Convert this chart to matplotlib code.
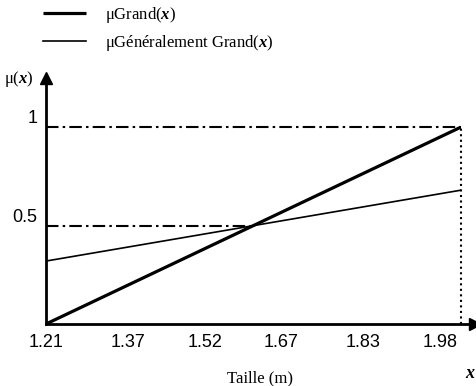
import numpy as np
import matplotlib
matplotlib.use('Agg')
import matplotlib.pyplot as plt

# données
taille = [1.21, 2.02]
mu_grand = [0.0, 1.0]
mu_gen_grand = [0.32, 0.68]
xtick_vals = [1.21, 1.37, 1.52, 1.67, 1.83, 1.98]
xtick_labels = ['1.21', '1.37', '1.52', '1.67', '1.83', '1.98']
ytick_vals = [0.5, 1]
ytick_labels = ['0.5', '1']
x_cross = 1.615

serif = ['Liberation Serif', 'DejaVu Serif']
narrow = ['Liberation Sans Narrow', 'Liberation Sans', 'DejaVu Sans']

plt.rcParams['mathtext.fontset'] = 'custom'
plt.rcParams['mathtext.rm'] = 'Liberation Serif'
plt.rcParams['mathtext.it'] = 'Liberation Serif:italic'
plt.rcParams['mathtext.bf'] = 'Liberation Serif:bold'
plt.rcParams['mathtext.bfit'] = 'Liberation Serif:italic:bold'

fig = plt.figure(figsize=(4.76, 3.86), dpi=100)
ax = fig.add_axes([0.0966, 0.1606, 0.901, 0.637])
ax.set_xlim(1.21, 2.048)
ax.set_ylim(0, 1.25)

for s in ['top', 'right']:
    ax.spines[s].set_visible(False)
for s in ['left', 'bottom']:
    ax.spines[s].set_linewidth(2.0)

# flèches des axes
ax.plot(1, 0, '>k', ms=8, transform=ax.transAxes, clip_on=False)
ax.plot(0, 1, '^k', ms=8, transform=ax.transAxes, clip_on=False)

# lignes de repère
ax.plot([taille[0], taille[1]], [1, 1], color='black', lw=1.5, dashes=(6, 2, 1.2, 2))
ax.plot([taille[0], x_cross], [0.5, 0.5], color='black', lw=1.5, dashes=(6, 2, 1.2, 2))
ax.plot([taille[1], taille[1]], [0, 1], color='black', lw=1.5, linestyle=':')

l1, = ax.plot(taille, mu_grand, color='black', lw=2.3, solid_capstyle='butt')
l2, = ax.plot(taille, mu_gen_grand, color='black', lw=1.2)

ax.set_xticks(xtick_vals)
ax.set_xticklabels(xtick_labels, family=narrow, fontsize=13)
ax.set_yticks(ytick_vals)
ax.set_yticklabels(ytick_labels, family=narrow, fontsize=13)
ax.tick_params(axis='both', length=0, pad=7)
ax.tick_params(axis='y', pad=6)
for lab in ax.get_yticklabels():
    lab.set_verticalalignment('bottom')

ax.set_xlabel('Taille (m)', family=serif, fontsize=12, labelpad=14)
fig.text(0.008, 0.795, r'μ($\mathbfit{x}$)', family=serif, fontsize=12, va='center')
fig.text(0.988, 0.02, r'$\mathbfit{x}$', family=serif, fontsize=13, ha='center')

leg = fig.legend([l1, l2], ['μGrand($\\mathbfit{x}$)', 'μGénéralement Grand($\\mathbfit{x}$)'],
                 loc='upper left', bbox_to_anchor=(0.066, 1.018), frameon=False,
                 handlelength=2.6, handletextpad=1.1, labelspacing=0.5,
                 borderpad=0.2, prop={'family': serif, 'size': 12})

fig.savefig('out.png', dpi=100)
